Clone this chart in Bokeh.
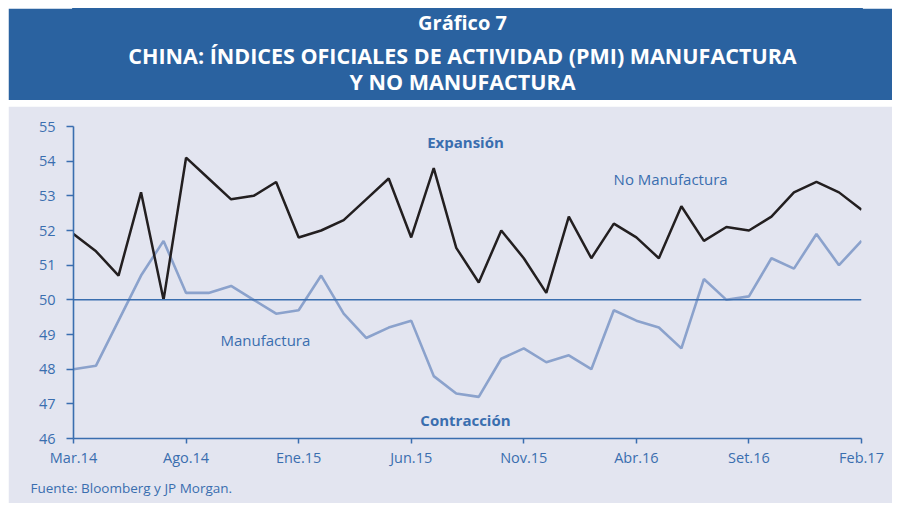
from bokeh.plotting import figure
from bokeh.models import Range1d, Span, Label, FixedTicker, ColumnDataSource, Title, Spacer
from bokeh.layouts import column, row
from bokeh.embed import file_html
from bokeh.resources import INLINE

# ---- data ----
months = list(range(36))  # Mar.14 .. Feb.17
tick_positions = [0, 5, 10, 15, 20, 25, 30, 35]
tick_labels = ["Mar.14", "Ago.14", "Ene.15", "Jun.15", "Nov.15", "Abr.16", "Set.16", "Feb.17"]
no_manufactura = [51.9, 51.4, 50.7, 53.1, 50.0, 54.1, 53.5, 52.9, 53.0, 53.4,
                  51.8, 52.0, 52.3, 52.9, 53.5, 51.8, 53.8, 51.5, 50.5, 52.0,
                  51.2, 50.2, 52.4, 51.2, 52.2, 51.8, 51.2, 52.7, 51.7, 52.1,
                  52.0, 52.4, 53.1, 53.4, 53.1, 52.6]
manufactura = [48.0, 48.1, 49.4, 50.7, 51.7, 50.2, 50.2, 50.4, 50.0, 49.6,
               49.7, 50.7, 49.6, 48.9, 49.2, 49.4, 47.8, 47.3, 47.2, 48.3,
               48.6, 48.2, 48.4, 48.0, 49.7, 49.4, 49.2, 48.6, 50.6, 50.0,
               50.1, 51.2, 50.9, 51.9, 51.0, 51.7]

BANNER = "#2A62A0"
PANEL = "#E3E5F0"
BLUE = "#3A6EAF"
LIGHT = "#8BA2CC"
DARK = "#231F20"
FONT = "Open Sans"

W = 884

# ---- banner ----
banner = figure(width=W, height=92, x_range=Range1d(0, 1), y_range=Range1d(0, 1),
                output_backend="svg", toolbar_location=None,
                min_border_left=65, min_border_right=31, min_border_top=0, min_border_bottom=0)
banner.axis.visible = False
banner.grid.visible = False
banner.outline_line_color = BANNER
banner.outline_line_width = 3
banner.background_fill_color = BANNER
banner.border_fill_color = BANNER
title_lines = ["Gráfico 7", "CHINA: ÍNDICES OFICIALES DE ACTIVIDAD (PMI) MANUFACTURA", "Y NO MANUFACTURA"]
title_y = [0.85, 0.49, 0.205]
title_size = ["20px", "21.5px", "21.5px"]
# frame spans canvas x 65..853 -> centre of text at canvas x 454
for t, yy, sz in zip(title_lines, title_y, title_size):
    banner.add_layout(Label(x=(454 - 65) / 788, y=yy, text=t, text_align="center", text_baseline="middle",
                            text_color="white", text_font=FONT, text_font_style="bold",
                            text_font_size=sz))

# ---- chart ----
p = figure(width=W, height=397, x_range=Range1d(0, 35), y_range=Range1d(46, 55),
           output_backend="svg", toolbar_location=None,
           min_border_left=65, min_border_right=31, min_border_top=20, min_border_bottom=65)
p.background_fill_color = PANEL
p.border_fill_color = PANEL
p.outline_line_color = PANEL
p.outline_line_width = 2
p.grid.visible = False

src = ColumnDataSource(dict(x=months, nm=no_manufactura, m=manufactura))
p.line("x", "m", source=src, line_color=LIGHT, line_width=2.6)
p.line("x", "nm", source=src, line_color=DARK, line_width=2.5)
p.add_layout(Span(location=50, dimension="width", line_color=BLUE, line_width=1.5))

for ax in (p.xaxis[0], p.yaxis[0]):
    ax.axis_line_color = BLUE
    ax.axis_line_width = 1.6
    ax.major_tick_line_color = BLUE
    ax.major_tick_line_width = 1.5
    ax.minor_tick_line_color = None
    ax.major_tick_in = 0
    ax.major_label_text_color = BLUE
    ax.major_label_text_font = FONT
    ax.major_label_text_font_size = "14.5px"

p.xaxis.ticker = FixedTicker(ticks=tick_positions)
p.xaxis.major_label_overrides = {k: v for k, v in zip(tick_positions, tick_labels)}
p.xaxis.major_tick_out = 5
p.xaxis.major_label_standoff = 4
p.yaxis.ticker = FixedTicker(ticks=list(range(46, 56)))
p.yaxis.major_tick_out = 7
p.yaxis.major_label_standoff = 11

def lab(x, y, text, bold=False, align="left", size="15px", **kw):
    p.add_layout(Label(x=x, y=y, text=text, text_align=align, text_baseline="middle",
                       text_color=BLUE, text_font=FONT,
                       text_font_style="bold" if bold else "normal",
                       text_font_size=size, **kw))

lab(17.41, 54.55, "Expansión", bold=True, align="center")
lab(17.41, 46.53, "Contracción", bold=True, align="center")
lab(23.99, 53.48, "No Manufactura")
lab(6.53, 48.84, "Manufactura")
lab(months[-1], no_manufactura[-1], f"{no_manufactura[-1]:.1f}".replace(".", ","), x_offset=1)
lab(months[-1], manufactura[-1], f"{manufactura[-1]:.1f}".replace(".", ","), x_offset=1, y_offset=4)

p.add_layout(Title(text="Fuente: Bloomberg y JP Morgan.", align="left", offset=-43,
                   text_color=BLUE, text_font=FONT, text_font_style="normal",
                   text_font_size="13.5px", standoff=14), "below")

layout = column(Spacer(height=8),
                row(Spacer(width=8), column(banner, p, spacing=6)))
open("out.html", "w").write(file_html(layout, INLINE))
